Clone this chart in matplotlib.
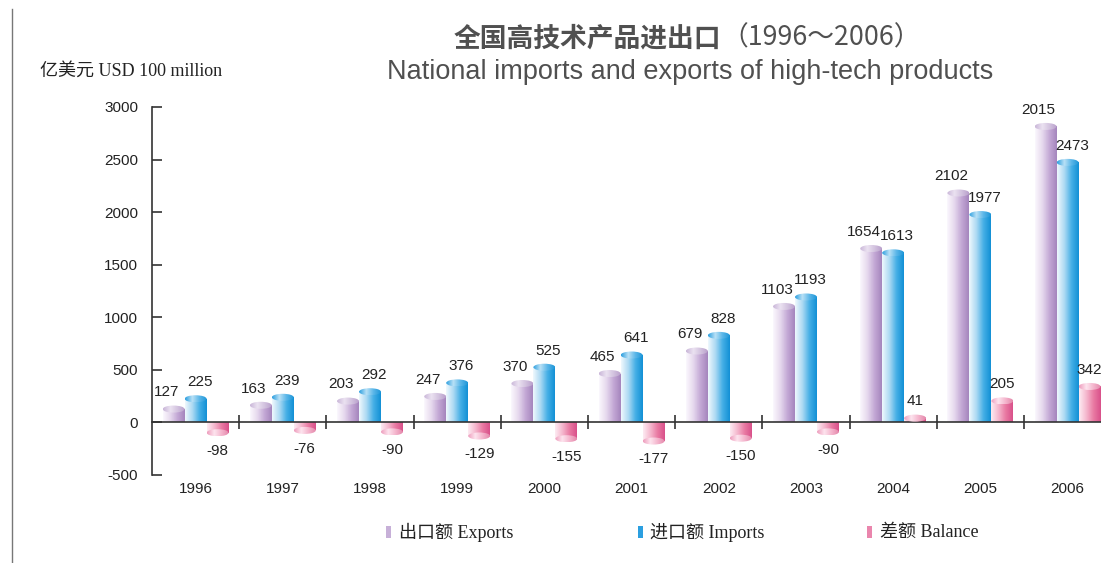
import numpy as np
import matplotlib.pyplot as plt
from matplotlib.patches import Ellipse, Rectangle
from matplotlib.colors import LinearSegmentedColormap
from matplotlib.lines import Line2D

plt.rcParams['axes.unicode_minus'] = False

years = ['1996', '1997', '1998', '1999', '2000', '2001', '2002', '2003', '2004', '2005', '2006']
exports = [127, 163, 203, 247, 370, 465, 679, 1103, 1654, 2182, 2815]
imports = [225, 239, 292, 376, 525, 641, 828, 1193, 1613, 1977, 2473]
balance = [-98, -76, -90, -129, -155, -177, -150, -90, 41, 205, 342]
# labels as printed on the original chart
export_labels = ['127', '163', '203', '247', '370', '465', '679', '1103', '1654', '2102', '2015']

W, H = 1101, 563
fig = plt.figure(figsize=(W / 100, H / 100), dpi=100)
ax = fig.add_axes([152 / W, 88 / H, (W - 152) / W, (475 - 107) / H])

# gradients for the cylinders: light on the left, strong on the right
cm_exp = LinearSegmentedColormap.from_list('exp', ['#fbf8fd', '#e6d9ee', '#c3a8d5', '#a585bd'])
cm_imp = LinearSegmentedColormap.from_list('imp', ['#eff8fd', '#aedaf3', '#45afe6', '#1290d5'])
cm_bal = LinearSegmentedColormap.from_list('bal', ['#fdebf2', '#f5b8ce', '#e97aa3', '#d9508a'])
cap_exp = LinearSegmentedColormap.from_list('cexp', ['#c9b6d8', '#ebe2f1', '#d3c3df', '#b9a0cc'])
cap_imp = LinearSegmentedColormap.from_list('cimp', ['#2c9fdf', '#b9e1f6', '#5ab6e8', '#1e96d8'])
cap_bal = LinearSegmentedColormap.from_list('cbal', ['#ee9dbd', '#fde4ee', '#f4b5cd', '#e488ab'])

w = 0.252
cap_h = 67
x = np.arange(len(years))
grad = np.linspace(0, 1, 128).reshape(1, -1)


def cylinders(xpos, vals, cmap, cmap_cap):
    bars = ax.bar(xpos, vals, width=w, color='none', edgecolor='none', zorder=2)
    for b, v in zip(bars, vals):
        x0 = b.get_x()
        y0, y1 = sorted([b.get_y(), b.get_y() + b.get_height()])
        im = ax.imshow(grad, cmap=cmap, extent=(x0, x0 + w, y0, y1),
                       aspect='auto', origin='lower', zorder=2)
        im.set_clip_path(b)
        el = Ellipse((x0 + w / 2, v), w, cap_h, facecolor='none', edgecolor='none', zorder=3)
        ax.add_patch(el)
        im2 = ax.imshow(grad, cmap=cmap_cap, extent=(x0, x0 + w, v - cap_h / 2, v + cap_h / 2),
                        aspect='auto', origin='lower', zorder=3)
        im2.set_clip_path(el)
    return bars


cylinders(x - w, exports, cm_exp, cap_exp)
cylinders(x, imports, cm_imp, cap_imp)
cylinders(x + w, balance, cm_bal, cap_bal)

lab = dict(fontsize=11, family='Liberation Sans', color='#222222', ha='center', textcoords='offset points')
for i in range(len(years)):
    ax.annotate(export_labels[i], (x[i] - w, exports[i]), xytext=(-5, 7), va='bottom', **lab)
    ax.annotate(str(imports[i]), (x[i], imports[i]), xytext=(3, 7), va='bottom', **lab)
    if balance[i] >= 0:
        ax.annotate(str(balance[i]), (x[i] + w, balance[i]), xytext=(0, 7), va='bottom', **lab)
    else:
        ax.annotate(str(balance[i]), (x[i] + w, balance[i]), xytext=(0, -8), va='top', **lab)
    ax.annotate(years[i], (x[i], -500), xytext=(0, -5), va='top', **lab)

ax.set_xlim(-0.5, -0.5 + 949 / 87.2)
ax.set_ylim(-500, 3000)
ax.spines['top'].set_visible(False)
ax.spines['right'].set_visible(False)
ax.spines['bottom'].set_position(('data', 0))
ax.spines['bottom'].set_color('#333333')
ax.spines['left'].set_color('#333333')
ax.spines['bottom'].set_linewidth(1.2)
ax.spines['left'].set_linewidth(1.2)
ax.set_yticks(np.arange(-500, 3001, 500))
ax.tick_params(axis='y', direction='in', length=7, width=1.2, pad=10, labelsize=11,
               labelcolor='#222222', color='#333333')
for t in ax.get_yticklabels():
    t.set_family('Liberation Sans')
ax.set_xticks(x[:-1] + 0.5)
ax.tick_params(axis='x', direction='inout', length=10, width=1.2, labelbottom=False, color='#333333')

# titles
cjk = ['Noto Sans CJK SC', 'DejaVu Sans']
fig.text(721 / W, 1 - 38 / H, '全国高技术产品进出口', family=cjk, fontsize=19.3, fontweight='bold',
         color='#505050', ha='right', va='center')
fig.text(721 / W, 1 - 38 / H, '（1996～2006）', family=cjk, fontsize=19.3,
         color='#505050', ha='left', va='center')
fig.text(690 / W, 1 - 72 / H, 'National imports and exports of high-tech products',
         family='Liberation Sans', fontsize=19.5, color='#505050', ha='center', va='center')
serif = ['Liberation Serif', 'Noto Sans CJK SC']
fig.text(40 / W, 1 - 71 / H, '亿美元 USD 100 million', family=serif, fontsize=13,
         color='#222222', ha='left', va='center')

# legend
legend_items = [('出口额 Exports', '#c7b0d8', 386, 399),
                ('进口额 Imports', '#2b9fe0', 638, 650),
                ('差额 Balance', '#ea86ad', 867, 880)]
for text, col, mx, tx in legend_items:
    fig.add_artist(Rectangle((mx / W, 1 - 538 / H), 5 / W, 12 / H, transform=fig.transFigure,
                             facecolor=col, edgecolor='none'))
    fig.text(tx / W, 1 - 532 / H, text, family=serif, fontsize=13, color='#222222',
             ha='left', va='center')

fig.add_artist(Line2D([12 / W, 12 / W], [0, 1 - 9 / H], transform=fig.transFigure,
                      color='#777777', lw=1))

fig.savefig('out.png', dpi=100, facecolor='white')
